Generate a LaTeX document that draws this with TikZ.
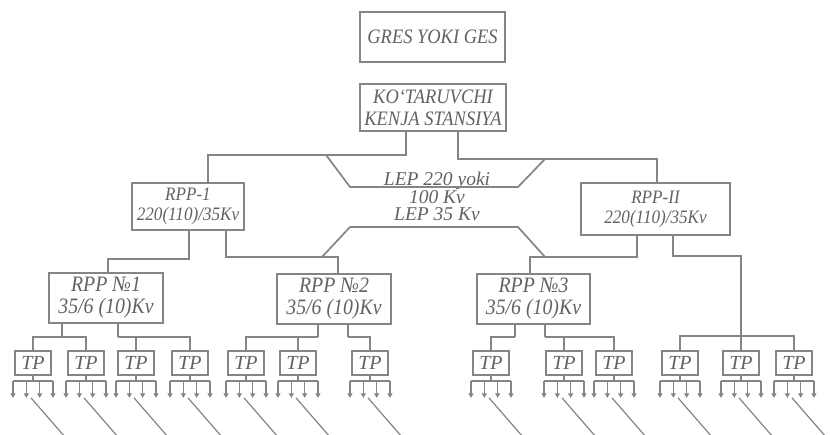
\documentclass[tikz,border=0pt]{standalone}
\usepackage{fontspec}
\setmainfont{Liberation Serif}
\newfontfamily\cf[FakeStretch=0.9]{Liberation Serif}
\usetikzlibrary{arrows.meta,calc}
\definecolor{lc}{HTML}{858585}
\definecolor{tc}{HTML}{626262}
\begin{document}
\begin{tikzpicture}[x=1pt,y=-1pt,
  ln/.style={draw=lc, line width=1.7pt},
  arr/.style={draw=lc, line width=1.2pt, -{Triangle[length=4.5pt,width=5pt]}, fill=lc},
  box/.style={draw=lc, line width=1.7pt, text=tc, align=center, inner sep=0pt},
  big/.style={box, font=\cf\itshape\fontsize{20.5}{22}\selectfont},
  mid/.style={box, font=\cf\itshape\fontsize{19}{20}\selectfont},
  rpp/.style={box, font=\cf\itshape\fontsize{22}{22}\selectfont},
  leptext/.style={text=tc, inner sep=0pt, align=center, anchor=north, font=\itshape\fontsize{19.5}{17.5}\selectfont},
  tp/.style={box, minimum width=36, minimum height=24, font=\itshape\fontsize{20}{20}\selectfont}]
\useasboundingbox[fill=white] (0,0) rectangle (830,435);

% top boxes
\node[big, minimum width=145, minimum height=50] (gres) at (432.5,37) {GRES YOKI GES};
\node[big, minimum width=146, minimum height=47] (kot) at (433,107.5) {KO‘TARUVCHI\\KENJA STANSIYA};

% level 2
\node[mid, minimum width=112, minimum height=47] (rpp1) at (188,206.5) {RPP-1\\220(110)/35Kv};
\node[mid, minimum width=149, minimum height=52] (rpp2) at (655.5,209) {RPP-II\\220(110)/35Kv};

% LEP label
\node[leptext] (lep) at (437,172) {LEP 220 yoki\\100 Kv\\LEP 35 Kv};

% level 3
\node[rpp, minimum width=114, minimum height=50] (r1) at (106,298) {RPP №1\\35/6 (10)Kv};
\node[rpp, minimum width=114, minimum height=50] (r2) at (334,299) {RPP №2\\35/6 (10)Kv};
\node[rpp, minimum width=113, minimum height=50] (r3) at (533.5,299) {RPP №3\\35/6 (10)Kv};

% TP boxes
\foreach \n/\x in {a1/33,a2/86,a3/136,a4/190,b1/246,b2/298,b3/370,c1/491,c2/564,c3/614,d1/680,d2/741,d3/794}
  \node[tp] (\n) at (\x,363) {TP};

% kot -> rpp1 / rpp2
\coordinate (k1) at (406,155); \coordinate (k1b) at (208,155);
\coordinate (k2) at (458,159); \coordinate (k2b) at (657,159);
\draw[ln] (kot.south -| k1) -- (k1) -- (k1b) -- (rpp1.north -| k1b);
\draw[ln] (kot.south -| k2) -- (k2) -- (k2b) -- (rpp2.north -| k2b);

% rpp1 -> r1, r2 ; rpp2 -> r3, group d
\coordinate (p1) at (189,259); \coordinate (p1b) at (108,259);
\coordinate (p2) at (226,257); \coordinate (p2b) at (338,257);
\coordinate (q1) at (637,257); \coordinate (q1b) at (530,257);
\coordinate (q2) at (673,256); \coordinate (q2b) at (741,256);
\draw[ln] (rpp1.south -| p1) -- (p1) -- (p1b) -- (r1.north -| p1b);
\draw[ln] (rpp1.south -| p2) -- (p2) -- (p2b) -- (r2.north -| p2b);
\draw[ln] (rpp2.south -| q1) -- (q1) -- (q1b) -- (r3.north -| q1b);
\coordinate (g7) at (741,336);
\draw[ln] (rpp2.south -| q2) -- (q2) -- (q2b) -- (g7);

% LEP lines
\coordinate (la) at (326,155); \coordinate (lb) at (350,187);
\coordinate (lc) at (518,187); \coordinate (ld) at (545,159);
\coordinate (le) at (350,227); \coordinate (lf) at (518,227);
\coordinate (lg) at (322,257); \coordinate (lh) at (545,257);
\draw[ln] (la) -- (lb) -- (lc) -- (ld);
\draw[ln] (lg) -- (le) -- (lf) -- (lh);

% RPP -> TP buses
\coordinate (g1) at (62,337); \coordinate (g2) at (118,337);
\coordinate (g3) at (318,337); \coordinate (g4) at (348,337);
\coordinate (g5) at (515,337); \coordinate (g6) at (545,337);
\draw[ln] (r1.south -| g1) -- (g1); \draw[ln] (a1.north) |- (g1); \draw[ln] (a2.north) |- (g1);
\draw[ln] (r1.south -| g2) -- (g2); \draw[ln] (a3.north) |- (g2); \draw[ln] (a4.north) |- (g2);
\draw[ln] (r2.south -| g3) -- (g3); \draw[ln] (b1.north) |- (g3); \draw[ln] (b2.north) |- (g3);
\draw[ln] (r2.south -| g4) -- (g4); \draw[ln] (b3.north) |- (g4);
\draw[ln] (r3.south -| g5) -- (g5); \draw[ln] (c1.north) |- (g5);
\draw[ln] (r3.south -| g6) -- (g6); \draw[ln] (c2.north) |- (g6); \draw[ln] (c3.north) |- (g6);
\draw[ln] (d1.north) |- (g7); \draw[ln] (d2.north) -- (g7); \draw[ln] (d3.north) |- (g7);

% outgoing feeders
\foreach \n in {a1,a2,a3,a4,b1,b2,b3,c1,c2,c3,d1,d2,d3} {
  \draw[ln] (\n.south) -- ++(0,5) coordinate (\n-bar);
  \draw[ln] ($(\n-bar)+(-20,0)$) -- ($(\n-bar)+(20,0)$);
  \foreach \dx in {-20,-6.67,6.67,20}
    \draw[arr] ($(\n-bar)+(\dx,0)$) -- ++(0,17);
  \draw[draw=lc, line width=1.2pt] ($(\n.south)+(-2,22)$) -- ++(33,38);
}
\end{tikzpicture}
\end{document}
